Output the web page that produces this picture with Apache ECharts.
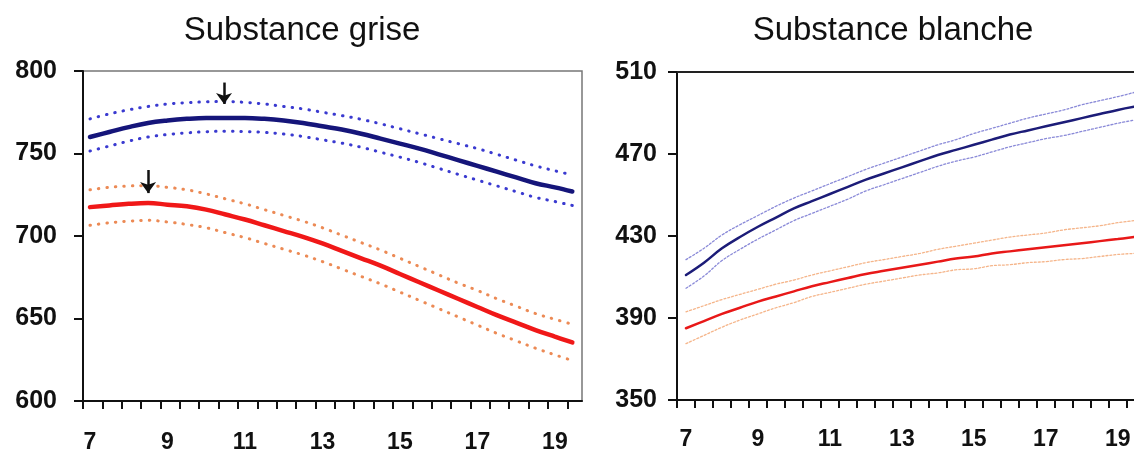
<!DOCTYPE html>
<html>
<head>
<meta charset="utf-8">
<script src="https://cdn.jsdelivr.net/npm/echarts@6/dist/echarts.min.js"></script>
<style>
  html, body { margin: 0; padding: 0; background: #fff; }
  #chart { width: 1134px; height: 454px; }
</style>
</head>
<body>
<div id="chart"></div>
<script>
/* ------------------------------------------------------------------ */
/*  Data                                                              */
/* ------------------------------------------------------------------ */
const ages = [7, 7.5, 8, 8.5, 9, 9.5, 10, 10.5, 11, 11.5, 12, 12.5, 13,
  13.5, 14, 14.5, 15, 15.5, 16, 16.5, 17, 17.5, 18, 18.5, 19, 19.45];

const xLabels = [7, 9, 11, 13, 15, 17, 19];
const greyTicks = [6.82, 7.32, 7.82, 8.32, 8.82, 9.32, 9.82, 10.32, 10.82, 11.32, 11.82,
  12.32, 12.82, 13.32, 13.82, 14.32, 14.82, 15.32, 15.82, 16.32, 16.82, 17.32, 17.82,
  18.32, 18.82, 19.32];
const whiteTicks = [6.75, 7.25, 7.75, 8.25, 8.75, 9.25, 9.75, 10.25, 10.75, 11.25, 11.75,
  12.25, 12.75, 13.25, 13.75, 14.25, 14.75, 15.25, 15.75, 16.25, 16.75, 17.25, 17.75,
  18.25, 18.75, 19.25];

// substance grise
const greyBlue = [760, 763, 766, 768.5, 770, 771, 771.5, 771.5, 771.5, 771, 770, 768.5,
  766.5, 764.5, 762, 759, 756, 753, 749.5, 746, 742.5, 739, 735.5, 732, 729.5, 727];
const greyBlueHi = [771, 774, 776.5, 778.5, 780, 780.8, 781.3, 781.5, 781, 780, 778.5, 777,
  775, 773, 770.7, 768, 765, 762, 759, 756, 753, 749.5, 746, 742.5, 739.5, 737];
const greyBlueLo = [751.5, 754.5, 757.5, 760, 761.5, 762.5, 763.2, 763.5, 763.3, 762.8, 761.8,
  760.3, 758.3, 756.3, 753.8, 750.8, 747.8, 744.6, 741, 737.4, 733.9, 730.4, 726.9, 723.4,
  720.9, 718.5];
const greyRed = [717.5, 718.5, 719.5, 720, 719, 718, 716, 713, 710, 706.5, 703, 699.5, 695.5,
  691, 686.5, 682, 677, 672, 667, 662, 657, 652, 647.5, 643, 639, 635.5];
const greyRedHi = [728, 729.5, 730.3, 730.5, 729.5, 728, 725.5, 722.5, 719.5, 716, 712.5, 709,
  705, 700.5, 696, 691.5, 686.5, 681.5, 676.5, 671.5, 667, 662, 657.5, 653, 649.5, 646.5];
const greyRedLo = [706.5, 708, 709, 709.5, 708.5, 707, 705, 702, 699, 695.5, 692, 688.5, 684.5,
  680, 675.5, 671, 666, 661, 656, 651, 646, 641, 636.5, 632, 628, 624.5];

// substance blanche
const whiteBlue = [411, 417, 424, 429.5, 434.5, 439, 443.5, 447, 450.5, 454, 457.5, 460.5,
  463.5, 466.5, 469.5, 472, 474.5, 477, 479.5, 481.5, 483.5, 485.5, 487.5, 489.5, 491.5, 493];
const whiteBlueHi = [418.5, 424, 430.5, 435.5, 440, 444.5, 448.5, 452, 455.5, 459, 462.5, 465.5,
  468.5, 471.5, 474.5, 477, 480, 482.5, 485, 487.5, 489.5, 491.5, 494, 496, 498, 500];
const whiteBlueLo = [404.5, 410.5, 418, 423.5, 428.5, 433, 437.5, 441, 444.5, 448, 452, 455,
  458, 461, 464, 466.5, 468.5, 471, 473.5, 475.5, 477.5, 479, 481, 483, 485, 486.5];
const whiteRed = [385, 388.5, 392, 395, 398, 400.5, 403, 405.5, 407.5, 409.5, 411.5, 413,
  414.5, 416, 417.5, 419, 420, 421.5, 422.5, 423.5, 424.5, 425.5, 426.5, 427.5, 428.5, 429.5];
const whiteRedHi = [393, 396, 399, 401.5, 404, 406.5, 408.5, 411, 413, 415, 417, 418.5, 420,
  421.5, 423.5, 425, 426.5, 428, 429.5, 430.5, 431.5, 433, 434, 435, 436.5, 437.5];
const whiteRedLo = [377.5, 381.5, 385.5, 389, 392, 395, 397.5, 400.5, 402.5, 404.5, 406.5, 408,
  409.5, 411, 412, 413.5, 414, 415.5, 416, 417, 417.5, 418.5, 419, 420, 421, 421.5];

// peak arrows (age, start value, end value)
const peakArrows = [[10.46, 793, 780], [8.5, 740, 726]];

/* ------------------------------------------------------------------ */
const FONT = '"Liberation Sans", Arial, sans-serif';
const pairs = vals => ages.map((a, i) => [a, vals[i]]);

const solid = (idx, vals, color, width) => ({
  type: 'line', xAxisIndex: idx, yAxisIndex: idx, data: pairs(vals),
  showSymbol: false, smooth: 0.4, silent: true, z: 3,
  lineStyle: { color, width, cap: 'round' }
});
const dotted = (idx, vals, color, width, dash) => ({
  type: 'line', xAxisIndex: idx, yAxisIndex: idx, data: pairs(vals),
  showSymbol: false, smooth: 0.4, silent: true, z: 2,
  lineStyle: { color, width, type: dash, cap: 'round' }
});

const xAxisBase = (gridIndex, min, max, ticks, margin) => ({
  type: 'value', gridIndex, min, max,
  axisLine: { show: true, onZero: false, lineStyle: { color: '#111', width: 2 } },
  axisTick: { show: true, customValues: ticks, length: 8, lineStyle: { color: '#111', width: 2 } },
  axisLabel: { customValues: xLabels, margin, color: '#111', fontFamily: FONT,
    fontWeight: 'bold', fontSize: 23 },
  splitLine: { show: false }
});
const yAxisBase = (gridIndex, min, max, interval, margin) => ({
  type: 'value', gridIndex, min, max, interval,
  axisLine: { show: true, lineStyle: { color: '#111', width: 2 } },
  axisTick: { show: true, length: 9, lineStyle: { color: '#111', width: 2 } },
  axisLabel: { margin, color: '#111', fontFamily: FONT, fontWeight: 'bold', fontSize: 25 },
  splitLine: { show: false }
});

const chart = echarts.init(document.getElementById('chart'));
chart.setOption({
  animation: false,
  backgroundColor: '#fff',
  graphic: [
    { type: 'text', x: 302, y: 31, style: { text: 'Substance grise', fontFamily: FONT,
      fontSize: 33, fill: '#111', textAlign: 'center', textVerticalAlign: 'middle' } },
    { type: 'text', x: 893, y: 31, style: { text: 'Substance blanche', fontFamily: FONT,
      fontSize: 33, fill: '#111', textAlign: 'center', textVerticalAlign: 'middle' } }
  ],
  grid: [
    { left: 83, top: 71, width: 499, height: 334, show: true,
      borderColor: '#777', borderWidth: 1.5 },
    { left: 677, top: 72, right: 0, height: 328 }
  ],
  xAxis: [
    xAxisBase(0, 6.82, 19.7, greyTicks, 30),
    xAxisBase(1, 6.75, 19.45, whiteTicks, 28),
    // top frame line of the right panel
    { type: 'value', gridIndex: 1, position: 'top', min: 6.75, max: 19.45,
      axisLine: { show: true, lineStyle: { color: '#222', width: 2 } },
      axisTick: { show: false }, axisLabel: { show: false }, splitLine: { show: false } }
  ],
  yAxis: [
    yAxisBase(0, 600, 800, 50, 26),
    yAxisBase(1, 350, 510, 40, 20)
  ],
  series: [
    dotted(0, greyBlueHi, '#3a3ad0', 3, [0.5, 8]),
    dotted(0, greyBlueLo, '#3a3ad0', 3, [0.5, 8]),
    dotted(0, greyRedHi, '#ec8a55', 3, [0.5, 8]),
    dotted(0, greyRedLo, '#ec8a55', 3, [0.5, 8]),
    solid(0, greyBlue, '#15157a', 4.5),
    Object.assign(solid(0, greyRed, '#f01818', 4.5), {
      markLine: {
        silent: true, symbol: ['none', 'arrow'], symbolSize: [12, 11],
        label: { show: false },
        lineStyle: { color: '#111', width: 2.5, type: 'solid' },
        data: peakArrows.map(([x, y0, y1]) => [{ coord: [x, y0] }, { coord: [x, y1] }])
      }
    }),
    dotted(1, whiteBlueHi, '#8a8ad8', 1.3, [2, 2]),
    dotted(1, whiteBlueLo, '#8a8ad8', 1.3, [2, 2]),
    dotted(1, whiteRedHi, '#f5b58a', 1.3, [2, 2]),
    dotted(1, whiteRedLo, '#f5b58a', 1.3, [2, 2]),
    solid(1, whiteBlue, '#1c1c78', 2.5),
    solid(1, whiteRed, '#e81818', 2.5)
  ]
});
</script>
</body>
</html>
